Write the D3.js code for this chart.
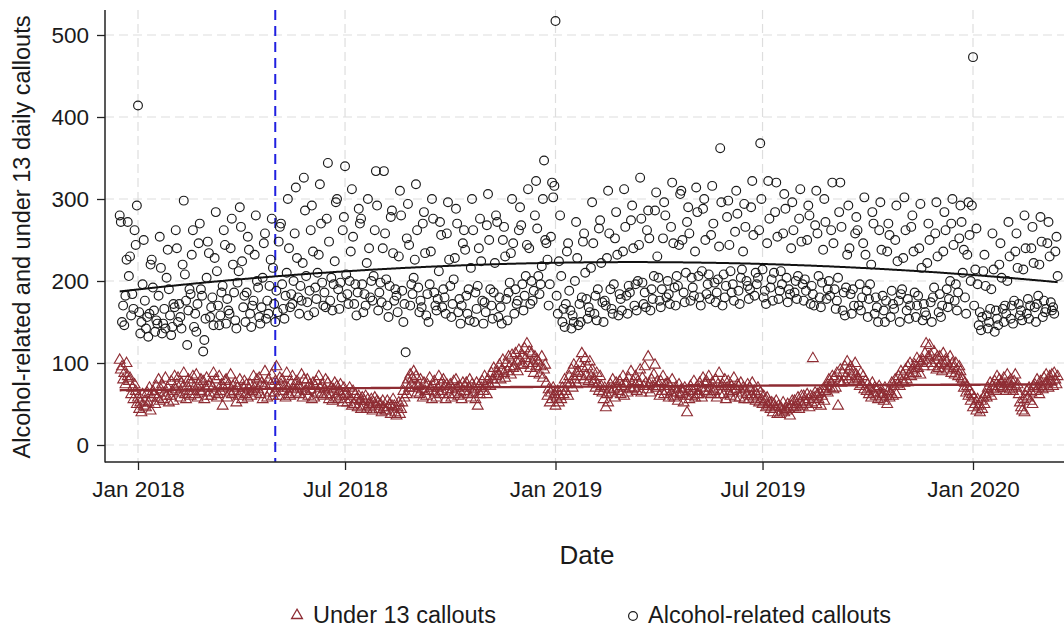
<!DOCTYPE html>
<html>
<head>
<meta charset="utf-8">
<script src="https://cdn.jsdelivr.net/npm/d3@7"></script>
<style>
  body { margin: 0; background: #fff; }
  svg { display: block; }
  text { font-family: "Liberation Sans", Arial, sans-serif; fill: #1a1a1a; }
</style>
</head>
<body>
<svg id="chart" width="1064" height="629"></svg>
<script>
// daily series start on Sat 16 Dec 2017, then one row per week (Mon..Sun)
var startDate = "2017-12-16";
var interventionDate = "2018-05-01";
var xTickDates = ["2018-01-01", "2018-07-01", "2019-01-01", "2019-07-01", "2020-01-01"];
var xTickLabels = ["Jan 2018", "Jul 2018", "Jan 2019", "Jul 2019", "Jan 2020"];
var yTicks = [0, 100, 200, 300, 400, 500];
var legendLabels = ["Under 13 callouts", "Alcohol-related callouts"];

var alcoholCallouts = [
  280, 272,
  150, 170, 146, 182, 226, 272, 206,
  230, 158, 184, 166, 262, 244, 292,
  414, 162, 136, 150, 196, 250, 176,
  142, 156, 132, 160, 220, 226, 192,
  164, 138, 152, 148, 182, 254, 216,
  136, 148, 166, 142, 204, 238, 190,
  158, 134, 144, 172, 168, 262, 240,
  150, 172, 156, 142, 220, 298, 208,
  176, 122, 164, 190, 184, 232, 262,
  144, 160, 138, 172, 246, 270, 190,
  182, 114, 128, 154, 204, 248, 234,
  156, 168, 180, 146, 228, 284, 212,
  170, 146, 158, 186, 194, 262, 244,
  148, 178, 164, 160, 240, 276, 220,
  186, 152, 142, 198, 212, 290, 266,
  224, 168, 182, 150, 186, 254, 238,
  160, 144, 170, 176, 232, 280, 200,
  192, 156, 148, 168, 204, 246, 258,
  154, 176, 160, 194, 226, 276, 216,
  172, 150, 188, 162, 248, 266, 270,
  196, 166, 154, 182, 210, 300, 240,
  168, 184, 172, 200, 258, 314, 228,
  180, 160, 194, 176, 222, 326, 286,
  206, 174, 158, 188, 262, 292, 236,
  162, 192, 178, 210, 232, 318, 270,
  198, 170, 186, 168, 276, 344, 248,
  176, 204, 164, 196, 224, 296, 300,
  190, 166, 198, 180, 262, 278, 340,
  208, 184, 172, 200, 236, 312, 254,
  172, 196, 158, 186, 288, 270, 276,
  196, 162, 184, 170, 222, 300, 240,
  180, 200, 176, 206, 262, 334, 292,
  164, 186, 198, 174, 240, 334, 258,
  202, 170, 156, 194, 278, 286, 234,
  176, 190, 182, 162, 230, 310, 280,
  188, 150, 172, 113, 252, 294, 244,
  170, 196, 184, 204, 226, 318, 262,
  192, 162, 176, 168, 270, 284, 234,
  158, 184, 150, 196, 236, 300, 276,
  186, 170, 164, 178, 212, 272, 256,
  168, 190, 180, 160, 258, 296, 226,
  194, 156, 172, 202, 228, 288, 270,
  162, 178, 148, 170, 246, 262, 238,
  182, 160, 190, 152, 216, 300, 262,
  150, 186, 166, 194, 240, 276, 224,
  176, 148, 174, 162, 268, 306, 250,
  190, 170, 154, 186, 222, 280, 272,
  156, 180, 168, 148, 250, 266, 230,
  178, 152, 186, 198, 234, 300, 246,
  160, 190, 172, 176, 262, 290, 268,
  196, 164, 182, 206, 244, 312, 240,
  172, 200, 176, 188, 280, 322, 264,
  206, 184, 196, 218, 300, 347, 250,
  246, 226, 170, 196, 254, 320, 302,
  316, 517, 182, 160, 224, 280, 206,
  150, 166, 144, 172, 236, 246, 188,
  164, 142, 158, 150, 200, 272, 228,
  146, 172, 150, 180, 248, 258, 210,
  178, 154, 168, 162, 216, 296, 246,
  160, 182, 152, 190, 264, 274, 222,
  174, 150, 176, 170, 228, 310, 258,
  190, 166, 160, 196, 252, 284, 232,
  158, 184, 178, 164, 236, 312, 266,
  182, 160, 194, 186, 274, 292, 240,
  170, 196, 164, 200, 244, 326, 276,
  198, 172, 186, 168, 262, 286, 252,
  164, 190, 178, 206, 286, 308, 230,
  204, 176, 168, 190, 252, 296, 280,
  180, 200, 184, 172, 266, 320, 246,
  192, 170, 206, 194, 244, 306, 310,
  250, 186, 174, 210, 272, 290, 258,
  176, 204, 192, 182, 236, 314, 284,
  206, 180, 170, 212, 288, 300, 250,
  184, 196, 208, 178, 256, 316, 270,
  198, 174, 186, 202, 242, 362, 296,
  170, 208, 180, 194, 278, 298, 244,
  212, 186, 196, 176, 260, 310, 282,
  188, 172, 204, 214, 236, 294, 266,
  200, 194, 178, 190, 290, 322, 256,
  182, 210, 196, 204, 262, 368, 300,
  214, 180, 188, 172, 246, 322, 276,
  192, 202, 176, 210, 284, 320, 254,
  178, 188, 212, 196, 258, 306, 288,
  204, 174, 190, 184, 240, 296, 262,
  186, 200, 178, 206, 276, 312, 248,
  196, 176, 202, 188, 250, 292, 280,
  172, 194, 184, 170, 268, 310, 258,
  206, 180, 168, 198, 238, 300, 272,
  178, 190, 200, 182, 262, 320, 246,
  190, 166, 176, 204, 284, 320, 266,
  164, 186, 158, 192, 232, 292, 240,
  184, 160, 190, 170, 258, 278, 262,
  170, 196, 164, 180, 246, 302, 232,
  188, 156, 178, 196, 220, 284, 270,
  160, 180, 168, 150, 262, 296, 238,
  182, 164, 150, 176, 236, 270, 256,
  156, 188, 172, 166, 250, 292, 224,
  176, 150, 184, 190, 228, 302, 262,
  164, 178, 154, 170, 266, 280, 236,
  186, 156, 170, 182, 240, 294, 216,
  152, 172, 162, 158, 222, 270, 250,
  174, 150, 180, 192, 258, 296, 230,
  162, 184, 156, 170, 236, 284, 262,
  190, 168, 178, 200, 270, 300, 244,
  176, 196, 164, 186, 252, 292, 272,
  210, 238, 180, 160, 232, 296, 256,
  200, 292, 473, 170, 214, 264, 196,
  146, 162, 140, 156, 212, 232, 194,
  158, 142, 150, 166, 190, 258, 214,
  138, 164, 154, 146, 220, 246, 204,
  166, 150, 170, 160, 200, 272, 230,
  154, 170, 148, 176, 236, 258, 216,
  172, 158, 164, 152, 214, 280, 240,
  160, 178, 154, 170, 240, 266, 222,
  168, 150, 172, 182, 220, 278, 248,
  156, 176, 162, 166, 246, 272, 230,
  174, 164, 168, 160, 236, 254, 206
];

var under13Callouts = [
  104, 92,
  96, 80, 88, 74, 100, 84, 78,
  82, 62, 70, 56, 74, 66, 50,
  58, 44, 52, 40, 62, 48, 54,
  46, 64, 52, 70, 42, 58, 66,
  62, 50, 72, 58, 80, 54, 68,
  74, 56, 64, 82, 60, 70, 52,
  60, 78, 66, 54, 84, 68, 74,
  82, 64, 58, 76, 70, 88, 62,
  56, 72, 80, 66, 60, 76, 84,
  70, 62, 86, 58, 74, 66, 80,
  64, 78, 56, 70, 82, 60, 72,
  76, 60, 70, 88, 64, 80, 58,
  62, 84, 66, 74, 48, 70, 78,
  80, 58, 74, 64, 86, 62, 72,
  66, 76, 52, 70, 60, 80, 64,
  56, 70, 78, 62, 74, 58, 68,
  74, 60, 66, 84, 70, 64, 80,
  68, 82, 62, 76, 56, 72, 90,
  72, 58, 80, 64, 74, 86, 60,
  64, 78, 96, 70, 60, 82, 74,
  80, 66, 72, 58, 88, 70, 62,
  60, 76, 84, 68, 74, 64, 78,
  72, 62, 70, 86, 58, 80, 66,
  66, 80, 60, 74, 68, 56, 76,
  58, 72, 78, 64, 84, 70, 62,
  74, 60, 68, 80, 62, 76, 56,
  62, 70, 54, 68, 76, 58, 72,
  56, 66, 74, 60, 52, 70, 62,
  64, 52, 60, 70, 56, 48, 66,
  50, 62, 56, 46, 60, 54, 44,
  58, 48, 54, 60, 44, 56, 50,
  46, 56, 42, 52, 58, 48, 54,
  52, 44, 50, 40, 54, 46, 42,
  42, 54, 46, 50, 38, 48, 56,
  48, 40, 36, 46, 52, 38, 44,
  52, 66, 58, 74, 62, 80, 70,
  86, 74, 82, 90, 70, 84, 64,
  72, 62, 80, 68, 58, 76, 66,
  60, 74, 66, 82, 70, 56, 72,
  78, 64, 58, 70, 84, 62, 74,
  66, 80, 72, 56, 74, 68, 62,
  74, 58, 68, 78, 62, 80, 70,
  60, 72, 64, 56, 76, 66, 72,
  76, 62, 70, 80, 58, 74, 64,
  68, 56, 76, 48, 72, 62, 70,
  78, 66, 84, 72, 62, 80, 74,
  72, 88, 80, 94, 76, 84, 90,
  86, 98, 80, 92, 104, 88, 82,
  100, 90, 108, 96, 86, 110, 94,
  96, 112, 102, 90, 116, 104, 98,
  110, 98, 118, 106, 124, 100, 114,
  94, 112, 100, 88, 108, 96, 104,
  102, 86, 96, 108, 82, 92, 98,
  76, 60, 68, 52, 64, 56, 70,
  62, 48, 58, 66, 52, 60, 56,
  70, 62, 80, 66, 74, 60, 84,
  76, 92, 70, 98, 80, 88, 74,
  90, 100, 84, 112, 94, 80, 106,
  86, 96, 78, 102, 84, 92, 76,
  80, 70, 88, 74, 66, 84, 72,
  64, 56, 70, 46, 62, 52, 68,
  74, 64, 80, 68, 58, 76, 70,
  66, 78, 62, 72, 84, 60, 74,
  76, 64, 82, 70, 90, 68, 78,
  70, 84, 66, 78, 74, 92, 64,
  82, 72, 96, 76, 68, 108, 74,
  64, 80, 72, 86, 98, 70, 78,
  72, 60, 78, 66, 84, 62, 74,
  66, 76, 58, 72, 64, 80, 60,
  58, 70, 64, 54, 74, 62, 68,
  64, 52, 70, 60, 40, 66, 56,
  72, 60, 66, 78, 58, 70, 62,
  62, 76, 70, 58, 82, 66, 74,
  78, 64, 84, 70, 62, 76, 68,
  66, 80, 58, 74, 88, 62, 72,
  74, 62, 80, 56, 70, 78, 64,
  60, 72, 66, 82, 58, 68, 74,
  72, 58, 76, 64, 70, 56, 68,
  62, 74, 56, 70, 60, 76, 58,
  66, 54, 62, 70, 52, 64, 56,
  50, 60, 54, 46, 58, 48, 52,
  44, 52, 40, 50, 46, 54, 38,
  48, 38, 46, 42, 52, 40, 44,
  42, 50, 44, 36, 48, 54, 46,
  54, 46, 50, 58, 44, 52, 60,
  48, 60, 54, 50, 62, 56, 46,
  60, 52, 106, 58, 64, 50, 62,
  56, 64, 48, 60, 68, 54, 66,
  72, 64, 80, 70, 76, 84, 68,
  82, 70, 88, 48, 78, 92, 76,
  88, 78, 96, 84, 102, 80, 92,
  96, 84, 90, 78, 100, 86, 82,
  80, 72, 88, 74, 84, 68, 78,
  66, 74, 62, 70, 58, 76, 64,
  70, 60, 68, 56, 72, 64, 58,
  62, 54, 70, 60, 50, 66, 58,
  64, 76, 60, 72, 80, 62, 74,
  84, 72, 90, 78, 86, 76, 92,
  80, 96, 86, 100, 84, 92, 88,
  98, 88, 106, 94, 102, 86, 100,
  104, 96, 112, 124, 100, 108, 122,
  110, 100, 96, 114, 104, 92, 108,
  94, 108, 100, 90, 112, 98, 104,
  102, 92, 96, 108, 88, 100, 94,
  86, 100, 92, 84, 96, 90, 82,
  80, 70, 76, 64, 72, 60, 66,
  54, 62, 46, 58, 50, 42, 56,
  48, 40, 54, 44, 58, 50, 62,
  58, 70, 64, 76, 60, 72, 68,
  78, 66, 84, 72, 80, 70, 76,
  70, 82, 74, 66, 86, 76, 68,
  80, 72, 66, 78, 86, 70, 74,
  62, 52, 46, 42, 56, 40, 60,
  66, 58, 70, 54, 64, 50, 72,
  74, 66, 80, 70, 62, 78, 72,
  68, 82, 74, 86, 76, 70, 84,
  78, 86, 72, 88, 80, 74, 84
];

var parseDate = d3.timeParse("%Y-%m-%d");
var start = parseDate(startDate);

var svg = d3.select("#chart");

var x = d3.scaleTime()
  .domain([parseDate("2018-01-01"), parseDate("2020-01-01")])
  .range([138, 973]);

var y = d3.scaleLinear()
  .domain([0, 500])
  .range([445, 35]);

var axisX = 105, axisY = 462, plotTop = 10, plotRight = 1064;

var maroon = "#8e2c33";

// build daily rows
var days = alcoholCallouts.map(function(v, i) {
  return { date: d3.timeDay.offset(start, i), alcohol: v, u13: under13Callouts[i], t: i / 365 };
});

// quadratic least-squares fit, like Stata qfit
function qfit(key) {
  var S = [0, 0, 0, 0, 0], T = [0, 0, 0];
  days.forEach(function(d) {
    var p = 1;
    for (var k = 0; k < 5; k++) { S[k] += p; p *= d.t; }
    T[0] += d[key]; T[1] += d[key] * d.t; T[2] += d[key] * d.t * d.t;
  });
  var A = [[S[0], S[1], S[2], T[0]], [S[1], S[2], S[3], T[1]], [S[2], S[3], S[4], T[2]]];
  for (var i = 0; i < 3; i++) {
    for (var j = i + 1; j < 3; j++) {
      var f = A[j][i] / A[i][i];
      for (var c = i; c < 4; c++) A[j][c] -= f * A[i][c];
    }
  }
  var b = [0, 0, 0];
  for (var i2 = 2; i2 >= 0; i2--) {
    var s = A[i2][3];
    for (var c2 = i2 + 1; c2 < 3; c2++) s -= A[i2][c2] * b[c2];
    b[i2] = s / A[i2][i2];
  }
  return days.map(function(d) { return { date: d.date, v: b[0] + b[1] * d.t + b[2] * d.t * d.t }; });
}

// grid lines
var grid = svg.append("g").attr("stroke", "#dedede").attr("stroke-width", 1.2).attr("stroke-dasharray", "9,5");
yTicks.forEach(function(t) {
  grid.append("line").attr("x1", axisX).attr("x2", plotRight).attr("y1", y(t)).attr("y2", y(t));
});
xTickDates.forEach(function(t) {
  grid.append("line").attr("x1", x(parseDate(t))).attr("x2", x(parseDate(t))).attr("y1", plotTop).attr("y2", axisY);
});

// intervention line
svg.append("line")
  .attr("x1", x(parseDate(interventionDate))).attr("x2", x(parseDate(interventionDate)))
  .attr("y1", plotTop).attr("y2", axisY)
  .attr("stroke", "#2020e0").attr("stroke-width", 2).attr("stroke-dasharray", "10,6");

var triPath = "M0,-5.8L5.4,3.5L-5.4,3.5Z";

// under 13 triangles
svg.append("g").selectAll("path")
  .data(days)
  .enter()
  .append("path")
  .attr("d", triPath)
  .attr("transform", function(d) { return "translate(" + x(d.date) + "," + y(d.u13) + ")"; })
  .attr("fill", "none")
  .attr("stroke", maroon)
  .attr("stroke-width", 1.1);

// alcohol circles
svg.append("g").selectAll("circle")
  .data(days)
  .enter()
  .append("circle")
  .attr("cx", function(d) { return x(d.date); })
  .attr("cy", function(d) { return y(d.alcohol); })
  .attr("r", 4.4)
  .attr("fill", "none")
  .attr("stroke", "#1a1a1a")
  .attr("stroke-width", 1.15);

// fitted lines
var line = d3.line().x(function(d) { return x(d.date); }).y(function(d) { return y(d.v); });
svg.append("path").datum(qfit("u13")).attr("d", line)
  .attr("fill", "none").attr("stroke", maroon).attr("stroke-width", 2.4);
svg.append("path").datum(qfit("alcohol")).attr("d", line)
  .attr("fill", "none").attr("stroke", "#111").attr("stroke-width", 2);

// axes
var yAxis = d3.axisLeft(y).tickValues(yTicks).tickSize(8).tickPadding(8);
var gy = svg.append("g").attr("transform", "translate(" + axisX + ",0)").call(yAxis);
gy.select(".domain").remove();

var xAxis = d3.axisBottom(x)
  .tickValues(xTickDates.map(parseDate))
  .tickFormat(function(d, i) { return xTickLabels[i]; })
  .tickSize(8).tickPadding(11);
var gx = svg.append("g").attr("transform", "translate(0," + axisY + ")").call(xAxis);
gx.select(".domain").remove();

svg.selectAll(".tick line").attr("stroke", "#222").attr("stroke-width", 1.3);
svg.selectAll(".tick text").attr("font-size", "22.5px").attr("fill", "#1a1a1a")
  .attr("font-family", "'Liberation Sans', Arial, sans-serif");

svg.append("line").attr("x1", axisX).attr("x2", axisX).attr("y1", plotTop).attr("y2", axisY + 0.6)
  .attr("stroke", "#222").attr("stroke-width", 1.5);
svg.append("line").attr("x1", axisX).attr("x2", plotRight).attr("y1", axisY).attr("y2", axisY)
  .attr("stroke", "#222").attr("stroke-width", 1.5);

// titles
svg.append("text")
  .attr("transform", "translate(30,237) rotate(-90)")
  .attr("text-anchor", "middle")
  .attr("font-size", "23.5px")
  .text("Alcohol-related and under 13 daily callouts");

svg.append("text")
  .attr("x", 587).attr("y", 564)
  .attr("text-anchor", "middle")
  .attr("font-size", "26px")
  .text("Date");

// legend
var legend = svg.append("g");
legend.append("path").attr("d", triPath).attr("transform", "translate(297,615)")
  .attr("fill", "none").attr("stroke", maroon).attr("stroke-width", 1.3);
legend.append("text").attr("x", 313).attr("y", 623).attr("font-size", "23.5px").text(legendLabels[0]);
legend.append("circle").attr("cx", 633).attr("cy", 616).attr("r", 4.4)
  .attr("fill", "none").attr("stroke", "#1a1a1a").attr("stroke-width", 1.2);
legend.append("text").attr("x", 648).attr("y", 623).attr("font-size", "23.5px").text(legendLabels[1]);
</script>
</body>
</html>
